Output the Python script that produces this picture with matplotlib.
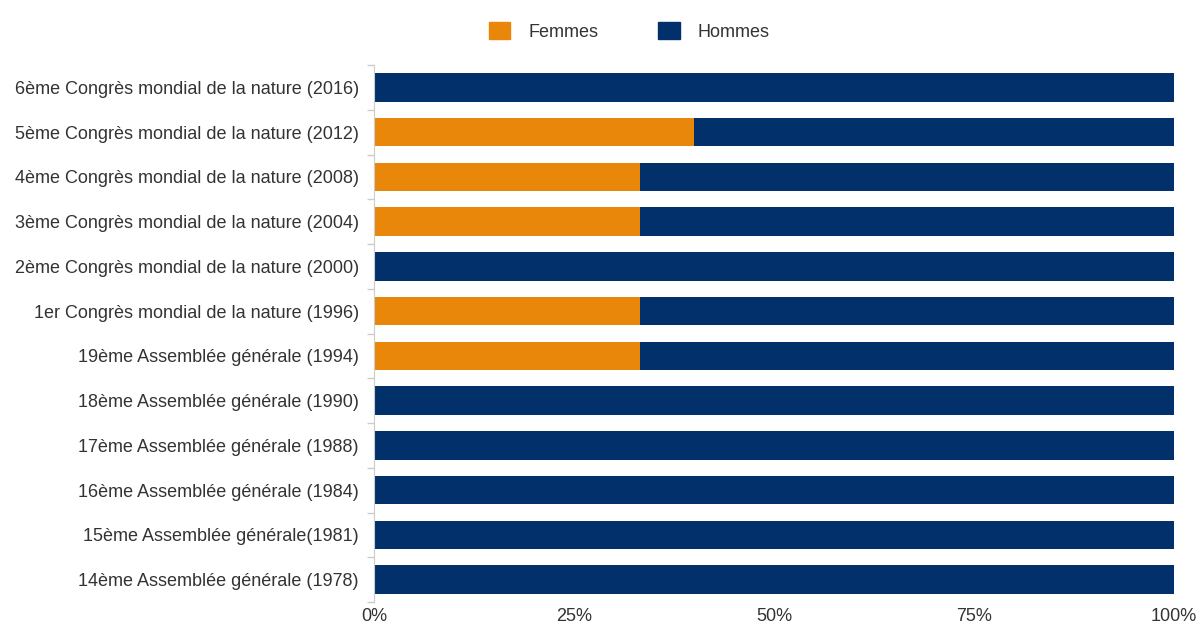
import matplotlib.pyplot as plt
from matplotlib.patches import Patch

categories = [
    "14ème Assemblée générale (1978)",
    "15ème Assemblée générale(1981)",
    "16ème Assemblée générale (1984)",
    "17ème Assemblée générale (1988)",
    "18ème Assemblée générale (1990)",
    "19ème Assemblée générale (1994)",
    "1er Congrès mondial de la nature (1996)",
    "2ème Congrès mondial de la nature (2000)",
    "3ème Congrès mondial de la nature (2004)",
    "4ème Congrès mondial de la nature (2008)",
    "5ème Congrès mondial de la nature (2012)",
    "6ème Congrès mondial de la nature (2016)",
]
femmes = [0, 0, 0, 0, 0, 33.3, 33.3, 0, 33.3, 33.3, 40, 0]
hommes = [100, 100, 100, 100, 100, 66.7, 66.7, 100, 66.7, 66.7, 60, 100]
xticks = [0, 25, 50, 75, 100]

orange = "#E8870A"
navy = "#01306B"

plt.rcParams['font.family'] = ['Liberation Sans', 'DejaVu Sans']

fig = plt.figure(figsize=(12.01, 6.30), dpi=100)
ax = fig.add_axes([0.3114, 0.0444, 0.6661, 0.8524])

y = list(range(len(categories)))
ax.barh(y, femmes, height=0.64, color=orange)
ax.barh(y, hommes, left=femmes, height=0.64, color=navy)

ax.set_xlim(0, 100)
ax.set_ylim(-0.5, len(categories) - 0.5)
ax.set_yticks(y)
ax.set_yticklabels(categories, fontsize=13, color="#333333")
ax.set_yticks([i - 0.5 for i in range(len(categories) + 1)], minor=True)
ax.tick_params(axis='y', which='major', length=0, pad=11)
ax.tick_params(axis='y', which='minor', length=5, color="#cccccc", width=1)

ax.set_xticks(xticks)
ax.set_xticklabels([f"{v}%" for v in xticks], fontsize=13, color="#333333")
ax.tick_params(axis='x', length=0, pad=4)

for s in ['top', 'right', 'bottom']:
    ax.spines[s].set_visible(False)
ax.spines['left'].set_color("#cccccc")

handles = [Patch(color=orange, label="Femmes"), Patch(color=navy, label="Hommes")]
fig.legend(handles=handles, loc='center', bbox_to_anchor=(0.524, 0.95), ncol=2,
           frameon=False, fontsize=13, handlelength=1.2, handleheight=1.1,
           columnspacing=3.3, handletextpad=1.0, labelcolor="#333333")

fig.savefig("out.png", dpi=100)
